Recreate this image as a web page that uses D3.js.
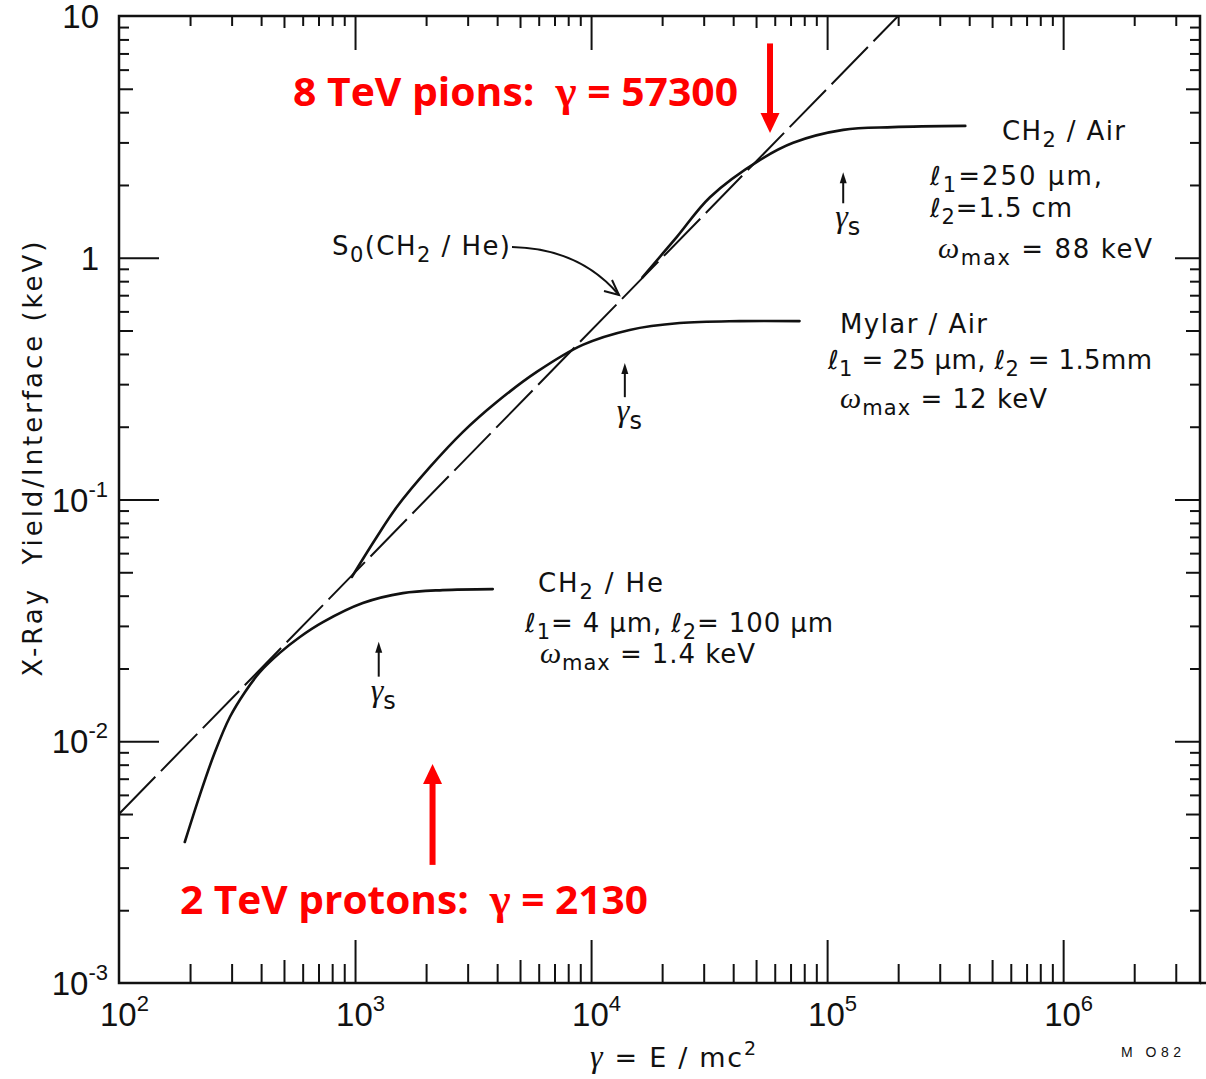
<!DOCTYPE html>
<html>
<head>
<meta charset="utf-8">
<script src="https://cdn.jsdelivr.net/npm/d3@7"></script>
<style>
  html, body { margin: 0; padding: 0; background: #fff; }
  svg { display: block; }
</style>
</head>
<body>
<svg id="chart" width="1206" height="1079"></svg>
<script>
// Transition-radiation X-ray yield per interface versus Lorentz factor γ

// Asymptotic (saturation-free) yield S0 for CH2/He, dashed line
const gammaS0 = [100, 2e5];
const yieldS0 = [0.005, 10];

// CH2 / He radiator
const gammaCH2He = [190, 220, 255, 295, 342, 395, 480, 584, 731, 1079, 1594, 2353, 3832];
const yieldCH2He = [0.00383, 0.00599, 0.00903, 0.0126, 0.0160, 0.0193, 0.0232, 0.0270, 0.0311, 0.0373, 0.0410, 0.0422, 0.0426];

// Mylar / Air radiator
const gammaMylar = [969, 1213, 1503, 2074, 2860, 3984, 5886, 9215, 14570, 23720, 42570, 76400];
const yieldMylar = [0.0478, 0.068, 0.0931, 0.136, 0.190, 0.253, 0.337, 0.436, 0.503, 0.537, 0.547, 0.547];

// CH2 / Air radiator
const gammaCH2Air = [16500, 23100, 31900, 52000, 71800, 117000, 190000, 385000];
const yieldCH2Air = [0.83, 1.22, 1.78, 2.54, 2.99, 3.38, 3.47, 3.51];

// Saturation Lorentz factors γs and the yield span of their pointer arrows
const gammaSat = [1260, 13900, 117000];
const satArrowTop = [0.0258, 0.367, 2.26];
const satArrowBottom = [0.0185, 0.265, 1.68];

// Beam Lorentz factors marked in red
const beamGamma = [57300, 2130];
const beamNames = ["8 TeV pions:", "2 TeV protons:"];
const beamArrowFrom = [7.7, 0.00308];
const beamArrowTo = [3.28, 0.00805];

// Axis decades and tick labels
const xDecades = [1e2, 1e3, 1e4, 1e5, 1e6];
const xDecadeExp = ["2", "3", "4", "5", "6"];
const yDecades = [1e-3, 1e-2, 1e-1, 1, 10];
const yDecadeBase = ["10", "10", "10", "1", "10"];
const yDecadeExp = ["-3", "-2", "-1", "", ""];

const X_MAX = 3.8e6;

const svg = d3.select("#chart");
const W = 1206, H = 1079;
const plot = { left: 119, top: 16, right: 1200, bottom: 983 };

svg.append("rect").attr("width", W).attr("height", H).attr("fill", "#fff");

const x = d3.scaleLog().domain([100, X_MAX]).range([plot.left, plot.right]);
const y = d3.scaleLog().domain([1e-3, 10]).range([plot.bottom, plot.top]);

const FONT = "'Liberation Sans', Arial, Helvetica, sans-serif";
const NOTE_FONT = "'DejaVu Sans', Verdana, sans-serif";
const GREEK = "'Liberation Serif', 'Times New Roman', serif";

// ---- ticks (all pointing inward) ----
function multiples(decades, mults, max) {
  const out = [];
  decades.forEach(d => mults.forEach(m => { if (d * m <= max * 1.0001) out.push(d * m); }));
  return out;
}
const xMinor = multiples(xDecades, [2, 3, 4, 6, 7, 8, 9], X_MAX);
const xFive = multiples(xDecades, [5], X_MAX);
const xMajor = xDecades.slice(1);
const yDecadesLow = [1e-3, 1e-2, 1e-1, 1];
const yMinor = multiples(yDecadesLow, [2, 3, 4, 6, 7, 8, 9], 10);
const yFive = multiples(yDecadesLow, [5], 10);
const yMajor = [1e-2, 1e-1, 1];

function tickGroup(axisFn, scale, values, size, tx, ty) {
  const g = svg.append("g")
    .attr("transform", `translate(${tx},${ty})`)
    .call(axisFn(scale).tickValues(values).tickSize(size).tickFormat(""));
  g.select(".domain").remove();
  g.selectAll(".tick line").attr("stroke", "#111").attr("stroke-width", 2);
  return g;
}

// bottom
tickGroup(d3.axisBottom, x, xMinor, -19, 0, plot.bottom);
tickGroup(d3.axisBottom, x, xFive, -23, 0, plot.bottom);
tickGroup(d3.axisBottom, x, xMajor, -43, 0, plot.bottom);
// top
tickGroup(d3.axisTop, x, xMinor, -10, 0, plot.top);
tickGroup(d3.axisTop, x, xFive, -12, 0, plot.top);
tickGroup(d3.axisTop, x, xMajor, -34, 0, plot.top);
// left
tickGroup(d3.axisLeft, y, yMinor, -10, plot.left, 0);
tickGroup(d3.axisLeft, y, yFive, -14, plot.left, 0);
tickGroup(d3.axisLeft, y, yMajor, -40, plot.left, 0);
// right
tickGroup(d3.axisRight, y, yMinor, -10, plot.right, 0);
tickGroup(d3.axisRight, y, yFive, -14, plot.right, 0);
tickGroup(d3.axisRight, y, yMajor, -25, plot.right, 0);

// frame
svg.append("rect")
  .attr("x", plot.left).attr("y", plot.top)
  .attr("width", plot.right - plot.left).attr("height", plot.bottom - plot.top)
  .attr("fill", "none").attr("stroke", "#111").attr("stroke-width", 2.5);
svg.append("line")
  .attr("x1", plot.right).attr("x2", W).attr("y1", plot.bottom).attr("y2", plot.bottom)
  .attr("stroke", "#111").attr("stroke-width", 2.5);

// ---- rich text helper: parts are [string, "sub"|"sup"|"greek"|undefined] ----
function rich(sel, parts, opt) {
  let cur = 0;
  parts.forEach(([s, kind]) => {
    const target = kind === "sub" ? opt.subDy : kind === "sup" ? opt.supDy : 0;
    const t = sel.append("tspan").text(s).attr("dy", target - cur);
    if (kind === "sub" || kind === "sup") t.attr("font-size", opt.small);
    if (kind === "greek") t.attr("font-family", GREEK).attr("font-style", "italic")
      .attr("font-size", opt.greekSize || null);
    cur = target;
  });
  return sel;
}

// ---- tick labels ----
xDecades.forEach((v, i) => {
  const t = svg.append("text")
    .attr("x", x(v) - 19).attr("y", 1026)
    .attr("font-family", FONT).attr("font-size", 33).attr("fill", "#111");
  rich(t, [["10"], [xDecadeExp[i], "sup"]], { small: 22, supDy: -15, subDy: 0 });
});

yDecades.forEach((v, i) => {
  const hasExp = yDecadeExp[i] !== "";
  const t = svg.append("text")
    .attr("x", hasExp ? 108 : 99).attr("y", y(v) + 12)
    .attr("text-anchor", "end")
    .attr("font-family", FONT).attr("font-size", 33).attr("fill", "#111");
  const parts = hasExp ? [[yDecadeBase[i]], [yDecadeExp[i], "sup"]] : [[yDecadeBase[i]]];
  rich(t, parts, { small: 22, supDy: -15, subDy: 0 });
});

// ---- axis titles ----
svg.append("text")
  .attr("transform", "translate(42,459) rotate(-90)")
  .attr("text-anchor", "middle")
  .attr("font-family", NOTE_FONT).attr("font-size", 26).attr("fill", "#111")
  .attr("textLength", 435).attr("lengthAdjust", "spacing")
  .style("white-space", "pre")
  .text("X-Ray  Yield/Interface (keV)");

{
  const t = svg.append("text")
    .attr("x", 590).attr("y", 1067)
    .attr("font-family", NOTE_FONT).attr("font-size", 27).attr("fill", "#111")
    .attr("textLength", 166).attr("lengthAdjust", "spacing")
    .style("white-space", "pre");
  rich(t, [["γ", "greek"], [" = E / mc"], ["2", "sup"]], { small: 19, supDy: -12, subDy: 0, greekSize: 32 });
}
svg.append("text")
  .attr("x", 1121).attr("y", 1057)
  .attr("font-family", FONT).attr("font-size", 14).attr("fill", "#111")
  .attr("textLength", 60).attr("lengthAdjust", "spacing")
  .text("M O82");

// ---- curves ----
const clipId = "plot-clip";
svg.append("clipPath").attr("id", clipId).append("rect")
  .attr("x", plot.left).attr("y", plot.top)
  .attr("width", plot.right - plot.left).attr("height", plot.bottom - plot.top);

const line = d3.line()
  .x(d => x(d[0])).y(d => y(d[1]))
  .curve(d3.curveCatmullRom.alpha(0.5));

const zip = (a, b) => a.map((v, i) => [v, b[i]]);

svg.append("path")
  .datum(zip(gammaS0, yieldS0))
  .attr("clip-path", `url(#${clipId})`)
  .attr("d", d3.line().x(d => x(d[0])).y(d => y(d[1])))
  .attr("fill", "none").attr("stroke", "#111").attr("stroke-width", 2)
  .attr("stroke-dasharray", "52 8");

[[gammaCH2He, yieldCH2He], [gammaMylar, yieldMylar], [gammaCH2Air, yieldCH2Air]].forEach(([g, v]) => {
  svg.append("path")
    .datum(zip(g, v))
    .attr("d", line)
    .attr("fill", "none").attr("stroke", "#111").attr("stroke-width", 2.6)
    .attr("stroke-linecap", "round");
});

// ---- γs pointers ----
gammaSat.forEach((g, i) => {
  const xs = x(g), yTop = y(satArrowTop[i]), yBot = y(satArrowBottom[i]);
  svg.append("line")
    .attr("x1", xs).attr("x2", xs).attr("y1", yBot).attr("y2", yTop + 8)
    .attr("stroke", "#111").attr("stroke-width", 2);
  svg.append("path")
    .attr("d", `M${xs},${yTop} L${xs - 3.5},${yTop + 11} L${xs + 3.5},${yTop + 11} Z`)
    .attr("fill", "#111");
  const t = svg.append("text")
    .attr("x", xs - 8).attr("y", yBot + 24)
    .attr("font-family", NOTE_FONT).attr("font-size", 28).attr("fill", "#111");
  rich(t, [["γ", "greek"], ["s", "sub"]], { small: 24, subDy: 8, supDy: 0, greekSize: 32 });
});

// ---- curve annotations ----
const notes = [
  { x: 1002, y: 140, w: 123, parts: [["CH"], ["2", "sub"], [" / Air"]] },
  { x: 930, y: 185, w: 172, parts: [["ℓ"], ["1", "sub"], ["=250 μm,"]] },
  { x: 930, y: 217, w: 142, parts: [["ℓ"], ["2", "sub"], ["=1.5 cm"]] },
  { x: 938, y: 258, w: 214, parts: [["ω", "greek"], ["max", "sub"], [" = 88 keV"]] },
  { x: 840, y: 333, w: 147, parts: [["Mylar / Air"]] },
  { x: 828, y: 369, w: 324, parts: [["ℓ"], ["1", "sub"], [" = 25 μm, ℓ"], ["2", "sub"], [" = 1.5mm"]] },
  { x: 840, y: 408, w: 207, parts: [["ω", "greek"], ["max", "sub"], [" = 12 keV"]] },
  { x: 538, y: 592, w: 125, parts: [["CH"], ["2", "sub"], [" / He"]] },
  { x: 525, y: 632, w: 308, parts: [["ℓ"], ["1", "sub"], ["= 4 μm, ℓ"], ["2", "sub"], ["= 100 μm"]] },
  { x: 540, y: 663, w: 215, parts: [["ω", "greek"], ["max", "sub"], [" = 1.4 keV"]] },
  { x: 332, y: 255, w: 178, parts: [["S"], ["0", "sub"], ["(CH"], ["2", "sub"], [" / He)"]] }
];
notes.forEach(n => {
  const t = svg.append("text")
    .attr("x", n.x).attr("y", n.y)
    .attr("font-family", NOTE_FONT).attr("font-size", 26).attr("fill", "#111")
    .attr("textLength", n.w).attr("lengthAdjust", "spacing")
    .style("white-space", "pre");
  rich(t, n.parts, { small: 21, subDy: 7, supDy: 0, greekSize: 30 });
});

// callout from the S0 label to the dashed line
{
  const end = [619, 295];
  svg.append("path")
    .attr("d", `M512,247 C555,248 592,263 ${end[0]},${end[1]}`)
    .attr("fill", "none").attr("stroke", "#111").attr("stroke-width", 2);
  svg.append("path")
    .attr("d", `M${end[0] - 15},${end[1] - 4} L${end[0]},${end[1]} L${end[0] - 7},${end[1] - 15}`)
    .attr("fill", "none").attr("stroke", "#111").attr("stroke-width", 2);
}

// ---- beam energy markers ----
const RED = "#ff0000";
beamGamma.forEach((g, i) => {
  const xb = x(g), y0 = y(beamArrowFrom[i]), y1 = y(beamArrowTo[i]);
  const dir = y1 > y0 ? 1 : -1;
  const headLen = 20, headHalf = 9.5;
  svg.append("line")
    .attr("x1", xb).attr("x2", xb).attr("y1", y0).attr("y2", y1 - dir * (headLen - 2))
    .attr("stroke", RED).attr("stroke-width", 6);
  svg.append("path")
    .attr("d", `M${xb},${y1} L${xb - headHalf},${y1 - dir * headLen} L${xb + headHalf},${y1 - dir * headLen} Z`)
    .attr("fill", RED);
});

const beamText = [
  { x: 293, y: 106, w: 445 },
  { x: 180, y: 914, w: 468 }
];
beamGamma.forEach((g, i) => {
  const t = svg.append("text")
    .attr("x", beamText[i].x).attr("y", beamText[i].y)
    .attr("font-family", "'Open Sans', 'Liberation Sans', Arial, sans-serif")
    .attr("font-weight", 700).attr("font-size", 40).attr("fill", RED)
    .attr("textLength", beamText[i].w).attr("lengthAdjust", "spacingAndGlyphs")
    .style("white-space", "pre");
  t.append("tspan").text(beamNames[i] + "  ");
  t.append("tspan").attr("font-family", GREEK).attr("font-size", 44).text("γ");
  t.append("tspan").text(" = " + g);
});
</script>
</body>
</html>
